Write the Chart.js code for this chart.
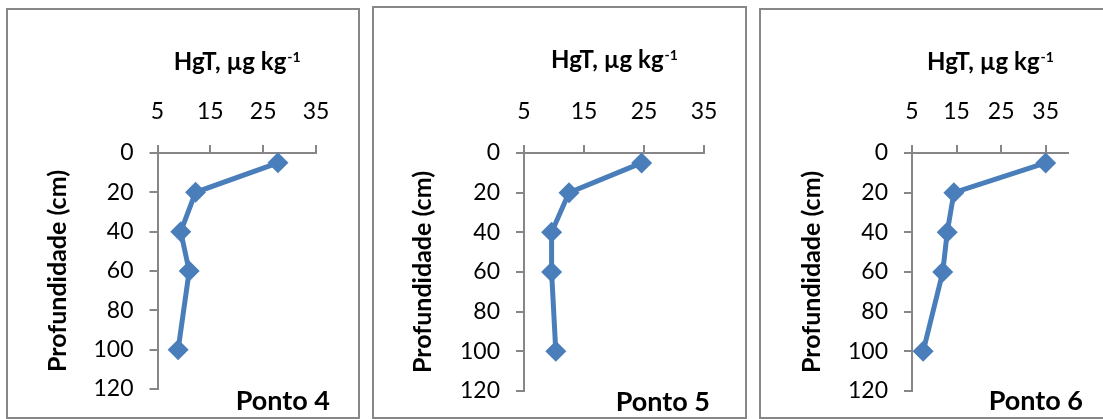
<!DOCTYPE html>
<html><head><meta charset="utf-8">
<script src="https://cdn.jsdelivr.net/npm/chart.js@4/dist/chart.umd.min.js"></script>
<style>
html,body{margin:0;padding:0;background:#fff;width:1103px;height:419px;overflow:hidden;position:relative}
.panel{position:absolute;box-sizing:border-box;border:2px solid #878787;background:#fff;overflow:hidden}
.panel canvas{position:absolute;left:0;top:0}
</style></head><body>
<div id="p0" class="panel"><canvas id="c0"></canvas></div>
<div id="p1" class="panel"><canvas id="c1"></canvas></div>
<div id="p2" class="panel"><canvas id="c2"></canvas></div>
<script>
// ---- data ----
const depths = [5, 20, 40, 60, 100];
const ponto4 = [27.8, 12.2, 9.4, 11.0, 8.9];
const ponto5 = [24.6, 12.5, 9.6, 9.6, 10.3];
const ponto6 = [35.0, 14.4, 12.9, 11.9, 7.5];
const xTicks = [5, 15, 25, 35];
const yTicks = [0, 20, 40, 60, 80, 100, 120];
const xMins = [5, 5, 5];
const xMaxs = [35, 35, 40];
const panelLabels = ['Ponto 4', 'Ponto 5', 'Ponto 6'];
const xTitleMain = 'HgT, µg kg';
const xTitleSup = '-1';
const yTitle = 'Profundidade (cm)';
const series = [ponto4, ponto5, ponto6];

// ---- layout / style ----
const BLUE = '#4a7ebb';
const AX = '#868686';
const FONT = 'Lato';
const layoutCfg = [
  {box:[6,8,354,411],   area:[157.5,153,316,389], titleY:70, yTitleX:58,  pontoRight:330,  pontoBase:410},
  {box:[372,6,375,413], area:[524,153,704,391],   titleY:68, yTitleX:423, pontoRight:710,  pontoBase:411},
  {box:[759,8,354,411], area:[912,153,1068,391],  titleY:70, yTitleX:812, pontoRight:1083, pontoBase:410}
];
const TICK_FONT = 23, TITLE_FONT = 24, YTITLE_FONT = 25;
const EXTRA_H = 40;

const textPlugin = {
  id: 'panelText',
  afterDraw(chart) {
    const c = chart.options.plugins.panelText;
    const ctx = chart.ctx;
    const ca = chart.chartArea;
    ctx.save();
    ctx.fillStyle = '#000';
    ctx.textBaseline = 'alphabetic';
    ctx.textAlign = 'left';
    ctx.font = 'bold ' + TITLE_FONT + 'px ' + FONT;
    const w1 = ctx.measureText(xTitleMain).width;
    ctx.font = 'bold 14px ' + FONT;
    const w2 = ctx.measureText(xTitleSup).width;
    const cx = (ca.left + ca.right) / 2;
    const x0 = cx - (w1 + w2) / 2;
    ctx.font = 'bold ' + TITLE_FONT + 'px ' + FONT;
    ctx.fillText(xTitleMain, x0, c.titleY);
    ctx.font = 'bold 14px ' + FONT;
    ctx.fillText(xTitleSup, x0 + w1 + 1, c.titleY - 8);
    ctx.font = 'bold 27px ' + FONT;
    ctx.textAlign = 'right';
    ctx.fillText(c.label, c.pontoRight, c.pontoBase);
    ctx.restore();
  }
};

layoutCfg.forEach((L, i) => {
  const div = document.getElementById('p' + i);
  const [bl, bt, bw, bh] = L.box;
  div.style.left = bl + 'px'; div.style.top = bt + 'px';
  div.style.width = bw + 'px'; div.style.height = bh + 'px';
  const ox = bl + 2, oy = bt + 2;
  const cw = bw - 4, ch = bh - 4 + EXTRA_H;
  const canvas = document.getElementById('c' + i);
  canvas.width = cw; canvas.height = ch;
  canvas.style.width = cw + 'px'; canvas.style.height = ch + 'px';
  const cl = L.area[0] - ox, ct = L.area[1] - oy, cr = L.area[2] - ox, cb = L.area[3] - oy;
  const titleLH = YTITLE_FONT * 1.2;
  const padLeft = (L.yTitleX - ox) - titleLH / 2;
  const padTop = 20;
  const Wy = cl - padLeft;
  const Hx = ct - padTop;
  new Chart(canvas, {
    type: 'scatter',
    data: {
      datasets: [{
        data: depths.map((d, k) => ({x: series[i][k], y: d})),
        showLine: true,
        borderColor: BLUE,
        backgroundColor: BLUE,
        borderWidth: 5,
        pointStyle: 'rectRot',
        pointRadius: 10.5,
        pointBorderWidth: 0,
        pointBackgroundColor: BLUE,
        clip: false
      }]
    },
    options: {
      responsive: false,
      animation: false,
      devicePixelRatio: 1,
      layout: {padding: {left: padLeft, top: padTop, right: cw - cr, bottom: ch - cb}},
      plugins: {
        legend: {display: false},
        tooltip: {enabled: false},
        panelText: {titleY: L.titleY - oy, label: panelLabels[i], pontoRight: L.pontoRight - ox, pontoBase: L.pontoBase - oy}
      },
      scales: {
        x: {
          type: 'linear', position: 'top', min: xMins[i], max: xMaxs[i],
          afterBuildTicks: s => { s.ticks = xTicks.map(v => ({value: v})); },
          afterFit: s => { s.height = Hx; },
          grid: {drawOnChartArea: false, drawTicks: true, tickLength: 8, color: AX, lineWidth: 2},
          border: {display: true, color: AX, width: 2},
          ticks: {padding: 20, color: '#000', font: {family: FONT, size: TICK_FONT}, maxRotation: 0, autoSkip: false}
        },
        y: {
          type: 'linear', position: 'left', reverse: true, min: 0, max: 120,
          afterBuildTicks: s => { s.ticks = yTicks.map(v => ({value: v})); },
          afterFit: s => { s.width = Wy; },
          grid: {drawOnChartArea: false, drawTicks: true, tickLength: 8, color: AX, lineWidth: 2},
          border: {display: true, color: AX, width: 2},
          ticks: {padding: 16, color: '#000', font: {family: FONT, size: TICK_FONT}, autoSkip: false},
          title: {display: true, text: yTitle, color: '#000', padding: 0, font: {family: FONT, size: YTITLE_FONT, weight: 'bold'}}
        }
      }
    },
    plugins: [textPlugin]
  });
});
</script>
</body></html>
